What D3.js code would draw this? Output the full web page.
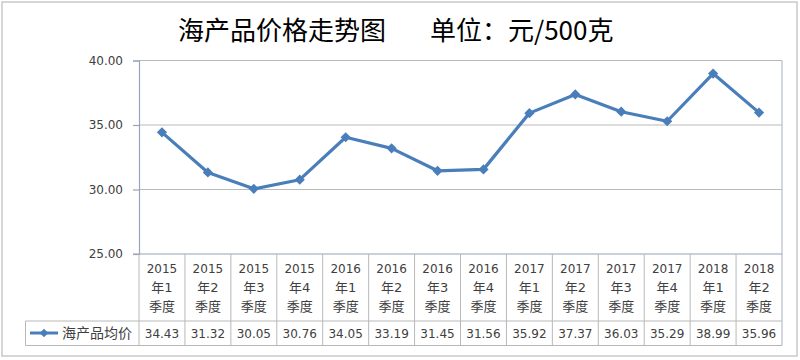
<!DOCTYPE html>
<html><head><meta charset="utf-8">
<script src="https://cdn.jsdelivr.net/npm/d3@7"></script>
<style>
html,body{margin:0;padding:0;background:#fff;}
svg{display:block;}
</style></head>
<body>
<svg id="chart" width="800" height="360"></svg>
<script>
const titleMain = "海产品价格走势图";
const titleUnit = "单位：元/500克";
const seriesName = "海产品均价";
const years = ["2015","2015","2015","2015","2016","2016","2016","2016","2017","2017","2017","2017","2018","2018"];
const quarters = ["年1","年2","年3","年4","年1","年2","年3","年4","年1","年2","年3","年4","年1","年2"];
const categories = years.map((y,i)=>y+quarters[i]+"季度");
const values = [34.43,31.32,30.05,30.76,34.05,33.19,31.45,31.56,35.92,37.37,36.03,35.29,38.99,35.96];
const yTicks = [25,30,35,40];

const svg = d3.select("#chart");
const L=139, R=782, T=60.5, B=254, rowTop=321, rowBot=345.5, legL=25.5;
const cjk = "'DejaVu Sans','Noto Sans CJK SC',sans-serif";

// outer frame
svg.append("rect").attr("x",2).attr("y",2).attr("width",795).attr("height",354)
  .attr("fill","#fff").attr("stroke","#c9c9c9").attr("stroke-width",1.5);

// title
svg.append("text").attr("x",178).attr("y",40)
  .attr("font-family","'Noto Sans CJK SC',sans-serif").attr("font-size",26)
  .attr("fill","#000").text(titleMain);
svg.append("text").attr("x",430).attr("y",40)
  .attr("font-family","'Noto Sans CJK SC',sans-serif").attr("font-size",26)
  .attr("fill","#000").text(titleUnit);

const x = d3.scaleBand().domain(categories).range([L,R]);
const y = d3.scaleLinear().domain([25,40]).range([B,T]);

// gridlines
svg.append("g").selectAll("line").data(yTicks.filter(v=>v>25)).join("line")
  .attr("x1",L).attr("x2",R).attr("y1",d=>y(d)).attr("y2",d=>y(d))
  .attr("stroke","#b9b9b9").attr("stroke-width",1.2);

// y axis
const yAxis = svg.append("g").attr("transform",`translate(${L},0)`)
  .call(d3.axisLeft(y).tickValues(yTicks).tickFormat(d3.format(".2f")).tickSize(6).tickPadding(10));
yAxis.select(".domain").attr("stroke","#98a4b8").attr("stroke-width",1.2);
yAxis.selectAll(".tick line").attr("stroke","#98a4b8").attr("stroke-width",1.2);
yAxis.selectAll("text").attr("font-family","'DejaVu Sans',sans-serif").attr("font-size",12).attr("fill","#404040");

// plot right border
svg.append("line").attr("x1",R).attr("x2",R).attr("y1",T).attr("y2",rowBot).attr("stroke","#b4bccb").attr("stroke-width",1.2);

// x axis line (baseline)
svg.append("line").attr("x1",L-6).attr("x2",R).attr("y1",B).attr("y2",B).attr("stroke","#98a4b8").attr("stroke-width",1.2);

// table lines
const tbl = svg.append("g").attr("stroke","#b8b8b8").attr("stroke-width",1);
const bounds = categories.map(c=>x(c)).concat([R]);
tbl.selectAll("line.v").data(bounds.slice(1,-1)).join("line")
  .attr("x1",d=>d).attr("x2",d=>d).attr("y1",B).attr("y2",rowBot);
tbl.append("line").attr("x1",L).attr("x2",L).attr("y1",B).attr("y2",rowBot);
tbl.append("line").attr("x1",legL).attr("x2",R).attr("y1",rowTop).attr("y2",rowTop);
tbl.append("line").attr("x1",legL).attr("x2",R).attr("y1",rowBot).attr("y2",rowBot);
tbl.append("line").attr("x1",legL).attr("x2",legL).attr("y1",rowTop).attr("y2",rowBot);

// category labels
const cat = svg.append("g").selectAll("text").data(categories).join("text")
  .attr("text-anchor","middle").attr("fill","#404040").attr("font-family",cjk);
cat.append("tspan").attr("x",d=>x(d)+x.bandwidth()/2).attr("y",273).attr("font-size",12).text((d,i)=>years[i]);
cat.append("tspan").attr("x",d=>x(d)+x.bandwidth()/2).attr("y",292).attr("font-size",13).text((d,i)=>quarters[i]);
cat.append("tspan").attr("x",d=>x(d)+x.bandwidth()/2).attr("y",311).attr("font-size",13).text("季度");

// data values row
svg.append("g").selectAll("text").data(values).join("text")
  .attr("x",(d,i)=>x(categories[i])+x.bandwidth()/2).attr("y",338)
  .attr("text-anchor","middle").attr("font-family","'DejaVu Sans',sans-serif").attr("font-size",12)
  .attr("fill","#404040").text(d=>d3.format(".2f")(d));

// line
const color = "#4a7ebb";
const line = d3.line().x((d,i)=>x(categories[i])+x.bandwidth()/2).y(d=>y(d));
svg.append("path").datum(values).attr("d",line).attr("fill","none")
  .attr("stroke",color).attr("stroke-width",3.2).attr("stroke-linejoin","round");
const diamond = d3.symbol().type(d3.symbolSquare).size(52);
svg.append("g").selectAll("path").data(values).join("path")
  .attr("d",diamond).attr("fill",color)
  .attr("transform",(d,i)=>`translate(${x(categories[i])+x.bandwidth()/2},${y(d)}) rotate(45)`);

// legend in table
svg.append("line").attr("x1",30).attr("x2",58).attr("y1",333).attr("y2",333).attr("stroke",color).attr("stroke-width",3);
svg.append("path").attr("d",d3.symbol().type(d3.symbolSquare).size(36)).attr("fill",color).attr("transform","translate(44,333) rotate(45)");
svg.append("text").attr("x",62).attr("y",338).attr("font-family","'Noto Sans CJK SC',sans-serif").attr("font-size",14)
  .attr("fill","#404040").text(seriesName);
</script>
</body></html>
